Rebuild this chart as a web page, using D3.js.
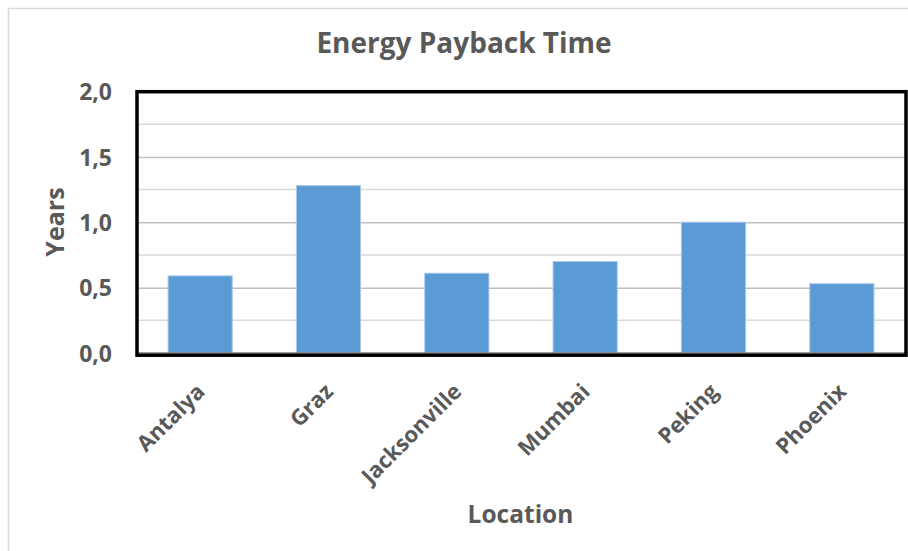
<!DOCTYPE html>
<html>
<head>
<meta charset="utf-8">
<script src="https://cdn.jsdelivr.net/npm/d3@7"></script>
<style>
  html, body { margin: 0; padding: 0; background: #fff; }
  svg { display: block; }
  text { font-family: "Open Sans", "Noto Sans", sans-serif; font-weight: bold; fill: #595959; }
</style>
</head>
<body>
<svg id="chart" width="908" height="551"></svg>
<script>
const categories = ["Antalya", "Graz", "Jacksonville", "Mumbai", "Peking", "Phoenix"];
const values = [0.59, 1.28, 0.61, 0.70, 1.00, 0.53];
const yTickValues = [0, 0.5, 1.0, 1.5, 2.0];
const yTickLabels = ["0,0", "0,5", "1,0", "1,5", "2,0"];
const minorGridValues = [0.25, 0.75, 1.25, 1.75];
const chartTitle = "Energy Payback Time";
const xTitle = "Location";
const yTitle = "Years";

const svg = d3.select("#chart");
const W = 908, H = 551;
const plot = { left: 136, right: 906, top: 91.5, bottom: 353 };

svg.append("rect").attr("x", 0).attr("y", 0).attr("width", W).attr("height", H).attr("fill", "#fff");
// outer chart-area border (right/bottom cropped in reference)
svg.append("rect").attr("x", 8.5).attr("y", 8.5).attr("width", 960).attr("height", 600)
  .attr("fill", "none").attr("stroke", "#d9d9d9").attr("stroke-width", 1.5);

const x = d3.scaleBand().domain(categories).range([plot.left, plot.right]).paddingInner(0.5).paddingOuter(0.25);
const y = d3.scaleLinear().domain([0, 2]).range([plot.bottom, plot.top]);

// minor gridlines
svg.append("g").selectAll("line").data(minorGridValues).join("line")
  .attr("x1", plot.left).attr("x2", plot.right)
  .attr("y1", d => y(d)).attr("y2", d => y(d))
  .attr("stroke", "#d9d9d9").attr("stroke-width", 1.5);

// major gridlines via axis
const yAxis = d3.axisLeft(y).tickValues(yTickValues)
  .tickSize(-(plot.right - plot.left))
  .tickFormat((d, i) => yTickLabels[i]);
const gy = svg.append("g").attr("transform", `translate(${plot.left},0)`).call(yAxis);
gy.select(".domain").remove();
gy.selectAll(".tick line").attr("stroke", "#bfbfbf").attr("stroke-width", 1.5)
  .filter(d => d === 0 || d === 2).remove();
gy.selectAll(".tick text")
  .attr("x", 112 - plot.left).attr("dy", "0.36em")
  .attr("text-anchor", "end")
  .style("font-size", "23px").style("font-family", "'Open Sans', sans-serif")
  .style("font-weight", "bold").attr("fill", "#595959");

// bars
svg.append("g").selectAll("rect").data(values).join("rect")
  .attr("x", (d, i) => x(categories[i]))
  .attr("width", x.bandwidth())
  .attr("y", d => y(d))
  .attr("height", d => y(0) - y(d))
  .attr("fill", "#5b9bd5")
  .attr("stroke", "#a8c8ea").attr("stroke-width", 1);

// category axis line
svg.append("line").attr("x1", plot.left).attr("x2", plot.right)
  .attr("y1", y(0)).attr("y2", y(0)).attr("stroke", "#7f7f7f").attr("stroke-width", 1.5);

// plot frame
svg.append("rect").attr("x", 137).attr("y", 91.7).attr("width", 769).attr("height", 263.5)
  .attr("fill", "none").attr("stroke", "#000").attr("stroke-width", 3.5);

// x labels
const xAxis = d3.axisBottom(x).tickSize(0);
const gx = svg.append("g").attr("transform", `translate(0,${plot.bottom})`).call(xAxis);
gx.select(".domain").remove();
gx.selectAll(".tick text")
  .attr("y", 0).attr("dy", 0)
  .attr("text-anchor", "end")
  .attr("transform", "translate(6,40) rotate(-45)")
  .style("font-size", "22px").style("font-family", "'Open Sans', sans-serif")
  .style("font-weight", "bold").attr("fill", "#595959");

// titles
svg.append("text").attr("x", 464).attr("y", 52.7).attr("text-anchor", "middle")
  .style("font-size", "28px").text(chartTitle);
svg.append("text").attr("x", 520.5).attr("y", 523.3).attr("text-anchor", "middle")
  .style("font-size", "24.5px").text(xTitle);
svg.append("text").attr("transform", "translate(64,222) rotate(-90)").attr("text-anchor", "middle")
  .style("font-size", "25px").text(yTitle);
</script>
</body>
</html>
